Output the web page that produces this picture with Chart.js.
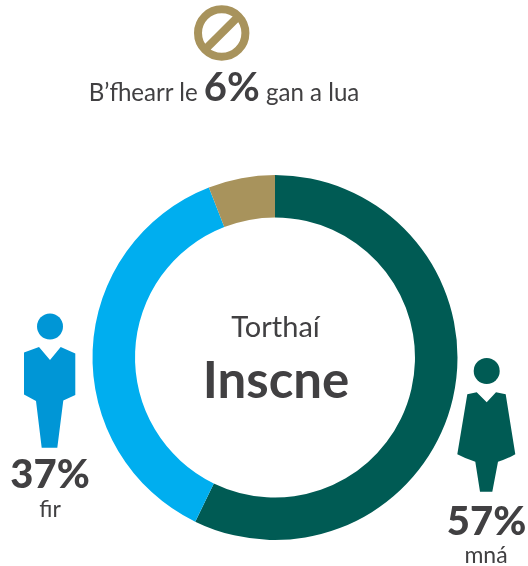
<!DOCTYPE html>
<html>
<head>
<meta charset="utf-8">
<script src="https://cdn.jsdelivr.net/npm/chart.js@4"></script>
<style>
html,body{margin:0;padding:0;background:#fff;width:528px;height:566px;overflow:hidden}
#wrap{position:relative;width:528px;height:566px;font-family:Lato,sans-serif;color:#414042}
canvas{position:absolute;left:0;top:0}
svg{position:absolute;left:0;top:0}
.t{position:absolute;white-space:nowrap;transform:translateX(-50%);line-height:1}
</style>
</head>
<body>
<div id="wrap">
<canvas id="c" width="528" height="566"></canvas>
<svg width="528" height="566" viewBox="0 0 528 566">
  <g fill="#0096d6">
    <circle cx="50" cy="326.5" r="13"/>
    <path d="M24 352.5L39 347L50 360L60.7 347L75.3 353.5V395L63.3 400.5L57.3 447.7H41.7L36 401L24 394.5Z"/>
  </g>
  <g fill="#005b54">
    <circle cx="486.7" cy="371" r="13"/>
    <path d="M467.3 394.3L476.7 392.3L486.7 402.3L496 392.3L505.7 394.3L515.3 454.3Q507 459 498 461.7L492.3 491.7H480L475.3 461.7Q466 459 457.3 454.3Z"/>
  </g>
  <g fill="none" stroke="#a8935c" stroke-width="8">
    <circle cx="221.7" cy="33" r="23.7"/>
    <line x1="205" y1="49.7" x2="238.4" y2="16.3"/>
  </g>
</svg>
<div class="t" style="left:224px;top:66px;font-size:24.1px"><span>B’fhearr le </span><span style="font-size:40px;font-weight:700">6%</span><span> gan a lua</span></div>
<div class="t" style="left:275.5px;top:311px;font-size:29px">Torthaí</div>
<div class="t" style="left:276px;top:353px;font-size:51px;font-weight:700">Inscne</div>
<div class="t" style="left:50px;top:453px;font-size:40px;font-weight:900">37%</div>
<div class="t" style="left:50px;top:497px;font-size:23px">fir</div>
<div class="t" style="left:486.5px;top:500px;font-size:40px;font-weight:900">57%</div>
<div class="t" style="left:486px;top:543px;font-size:23px">mná</div>
</div>
<script>
const categories = ["mná", "fir", "gan a lua"];
const seriesValues = [57.2, 36.9, 5.9];
const sliceColours = ["#005b54", "#00aeef", "#a8935c"];
new Chart(document.getElementById("c"), {
  type: "doughnut",
  data: { labels: categories, datasets: [{ data: seriesValues, backgroundColor: sliceColours, borderWidth: 0 }] },
  options: {
    responsive: false, animation: false, cutout: "76.7%",
    layout: { padding: { left: 92.5, right: 70.5, top: 175, bottom: 26 } },
    plugins: { legend: { display: false }, tooltip: { enabled: false } }
  }
});
</script>
</body>
</html>
